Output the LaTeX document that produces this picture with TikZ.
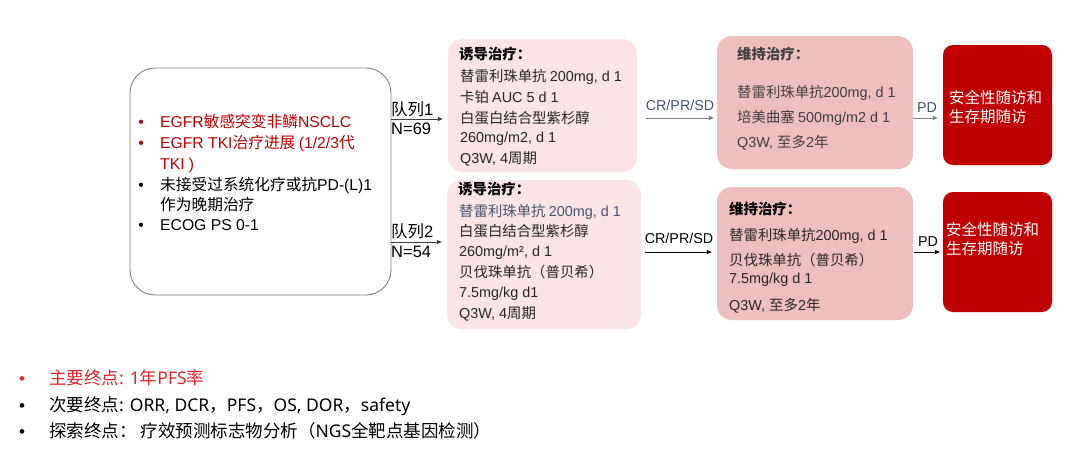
\documentclass[tikz,border=0pt]{standalone}
\usepackage{fontspec}
\usetikzlibrary{arrows.meta}
\setmainfont{Liberation Sans}
\newfontfamily\cjkfont{Noto Sans CJK SC}
\newfontfamily\arialfont{Liberation Sans}
\newfontfamily\notofont{Noto Sans}
\def\latinfont{\arialfont}
\newcount\mycnt
\def\setcjkrange#1#2{\mycnt=#1\relax\loop\XeTeXcharclass\mycnt=7\relax\ifnum\mycnt<#2\relax\advance\mycnt by 1\relax\repeat}
\setcjkrange{"3000}{"303F}
\setcjkrange{"4E00}{"9FFF}
\setcjkrange{"FF00}{"FFEF}
\XeTeXinterchartokenstate=1
\XeTeXinterchartoks 0 7 = {\cjkfont}
\XeTeXinterchartoks 4095 7 = {\cjkfont}
\XeTeXinterchartoks 7 0 = {\latinfont}
\XeTeXinterchartoks 4095 0 = {\latinfont}
\definecolor{indfill}{RGB}{251,228,229}
\definecolor{mntfill}{RGB}{239,191,191}
\definecolor{redbox}{RGB}{192,0,0}
\definecolor{redtxt}{RGB}{192,0,0}
\definecolor{redtxtb}{RGB}{224,38,38}
\definecolor{tdark}{RGB}{38,38,38}
\definecolor{tblue}{RGB}{68,84,106}
\definecolor{tgray}{RGB}{64,64,64}
\definecolor{agray}{RGB}{127,127,127}
\definecolor{bgray}{RGB}{128,128,128}
\tikzset{
  lboxstyle/.style={draw=bgray, line width=0.9pt, rounded corners=25pt, inner sep=0pt},
  indbox/.style={fill=indfill, rounded corners=15pt, inner sep=0pt},
  mntbox/.style={fill=mntfill, rounded corners=15pt, inner sep=0pt},
  redboxst/.style={fill=redbox, rounded corners=10pt, inner sep=0pt, minimum width=109pt, minimum height=120pt},
  ltxt/.style={anchor=west, inner sep=0pt, text height=11.3pt, text depth=0pt, font=\fontsize{15.7}{19}\selectfont, text=black},
  btxt/.style={anchor=west, inner sep=0pt, text height=10.4pt, text depth=0pt, font=\fontsize{14.4}{17}\selectfont, text=tdark},
  cohtxt/.style={anchor=west, inner sep=0pt, text height=11.9pt, text depth=0pt, font=\fontsize{16.5}{19}\selectfont, text=black},
  labtxt/.style={anchor=center, inner sep=0pt, text height=10.3pt, text depth=0pt, font=\fontsize{14.3}{17}\selectfont},
  rtxt/.style={anchor=west, inner sep=0pt, text height=11.2pt, text depth=0pt, font=\fontsize{15.5}{19}\selectfont, text=white},
  ftxt/.style={anchor=west, inner sep=0pt, text height=12.6pt, text depth=0pt, font={\fontsize{17.5}{22}\selectfont\def\latinfont{\notofont}}, text=black},
  fbul/.style={anchor=center, inner sep=0pt, font=\fontsize{17}{19}\selectfont, text=black},
  arr/.style={-{Triangle[length=5pt,width=4pt]}, line width=0.8pt},
}
\begin{document}
\begin{tikzpicture}[x=1pt,y=-1pt]
\fill[white] (0,0) rectangle (1073,475);
\useasboundingbox (0,0) rectangle (1073,475);

% boxes
\node[lboxstyle, minimum width=261pt, minimum height=227pt] (lbox) at (260.5,181.5) {};
\node[indbox, minimum width=189pt, minimum height=133pt] (ind1) at (542.5,105.5) {};
\node[indbox, minimum width=194pt, minimum height=149pt] (ind2) at (544,254.5) {};
\node[mntbox, minimum width=196pt, minimum height=133pt] (mnt1) at (815,102.5) {};
\node[mntbox, minimum width=196pt, minimum height=133pt] (mnt2) at (815,253.5) {};
\node[redboxst] (red1) at (997.5,105) {};
\node[redboxst] (red2) at (997.5,252) {};

% left box text
\node[ltxt, text=redtxt, anchor=center] (lb1) at (141,122) {•};
\node[ltxt, text=redtxt] (l1) at (160,122) {EGFR敏感突变非鳞NSCLC};
\node[ltxt, text=redtxt, anchor=center] (lb2) at (141,143) {•};
\node[ltxt, text=redtxt] (l2) at (160,143) {EGFR TKI治疗进展 (1/2/3代};
\node[ltxt, text=redtxt] (l3) at (160,164) {TKI )};
\node[ltxt, anchor=center] (lb4) at (141,185) {•};
\node[ltxt] (l4) at (160,185) {未接受过系统化疗或抗PD-(L)1};
\node[ltxt] (l5) at (160,205) {作为晚期治疗};
\node[ltxt, anchor=center] (lb6) at (141,225) {•};
\node[ltxt] (l6) at (160,225) {ECOG PS 0-1};

% cohort labels
\node[cohtxt] (q1) at (391,110) {队列1};
\node[cohtxt] (n1) at (391,129) {N=69};
\node[cohtxt] (q2) at (391,232) {队列2};
\node[cohtxt] (n2) at (391,252) {N=54};

% induction 1
\node[btxt, font=\fontsize{14.4}{17}\selectfont\bfseries, text=black] (i1a) at (459,54) {诱导治疗：};
\node[btxt] (i1b) at (460,76) {替雷利珠单抗 200mg, d 1};
\node[btxt] (i1c) at (460,97) {卡铂 AUC 5 d 1};
\node[btxt] (i1d) at (460,118) {白蛋白结合型紫杉醇};
\node[btxt] (i1e) at (460,137) {260mg/m2, d 1};
\node[btxt] (i1f) at (460,158) {Q3W, 4周期};

% induction 2
\node[btxt, font=\fontsize{14.4}{17}\selectfont\bfseries, text=black] (i2a) at (458,189) {诱导治疗：};
\node[btxt, text=tblue] (i2b) at (459,211) {替雷利珠单抗 200mg, d 1};
\node[btxt] (i2c) at (459,231) {白蛋白结合型紫杉醇};
\node[btxt] (i2d) at (459,251) {260mg/m², d 1};
\node[btxt] (i2e) at (459,272) {贝伐珠单抗（普贝希）};
\node[btxt] (i2f) at (459,292) {7.5mg/kg d1};
\node[btxt] (i2g) at (459,313) {Q3W, 4周期};

% maintenance 1
\node[btxt, font=\fontsize{14.4}{17}\selectfont\bfseries, text=tgray] (m1a) at (737,54) {维持治疗：};
\node[btxt, text=tgray] (m1b) at (737,92) {替雷利珠单抗200mg, d 1};
\node[btxt, text=tgray] (m1c) at (737,117) {培美曲塞 500mg/m2 d 1};
\node[btxt, text=tgray] (m1d) at (737,142) {Q3W, 至多2年};

% maintenance 2
\node[btxt, font=\fontsize{14.4}{17}\selectfont\bfseries, text=black] (m2a) at (729,209) {维持治疗：};
\node[btxt] (m2b) at (729,235) {替雷利珠单抗200mg, d 1};
\node[btxt] (m2c) at (729,260) {贝伐珠单抗（普贝希）};
\node[btxt] (m2d) at (729,278) {7.5mg/kg d 1};
\node[btxt] (m2e) at (729,305) {Q3W, 至多2年};

% red boxes text
\node[rtxt] (r1a) at (949,98) {安全性随访和};
\node[rtxt] (r1b) at (949,117) {生存期随访};
\node[rtxt] (r2a) at (946,230) {安全性随访和};
\node[rtxt] (r2b) at (946,249) {生存期随访};

% arrow labels
\node[labtxt, text=tblue] (cr1) at (680,105) {CR/PR/SD};
\node[labtxt, text=black] (cr2) at (679,238) {CR/PR/SD};
\node[labtxt, text=tblue] (pd1) at (927,107) {PD};
\node[labtxt, text=black] (pd2) at (928,241) {PD};

% connectors
\coordinate (ya) at (0,119);
\coordinate (yb) at (0,242);
\coordinate (yc) at (0,118);
\coordinate (yd) at (0,252);
\draw[arr, draw=tgray, shorten >=5pt] (lbox.east |- ya) -- (ind1.west |- ya);
\draw[arr, draw=tgray, shorten >=5pt] (lbox.east |- yb) -- (ind2.west |- yb);
\draw[arr, draw=agray, shorten <=9pt, shorten >=3pt] (ind1.east |- yc) -- (mnt1.west |- yc);
\draw[arr, draw=black, shorten <=4pt, shorten >=5pt] (ind2.east |- yd) -- (mnt2.west |- yd);
\draw[arr, draw=agray, shorten >=5pt] (mnt1.east |- yc) -- (red1.west |- yc);
\draw[arr, draw=black, shorten <=1pt, shorten >=3pt] (mnt2.east |- yd) -- (red2.west |- yd);

% bottom list
\node[fbul, text=redtxtb] (fb1) at (22,381) {•};
\node[ftxt, text=redtxtb] (f1) at (49,378) {主要终点: 1年PFS率};
\node[fbul] (fb2) at (22,408) {•};
\node[ftxt] (f2) at (49,405) {次要终点: ORR, DCR，PFS，OS, DOR，safety};
\node[fbul] (fb3) at (22,434) {•};
\node[ftxt] (f3) at (49,431) {探索终点： 疗效预测标志物分析（NGS全靶点基因检测）};
\end{tikzpicture}
\end{document}
